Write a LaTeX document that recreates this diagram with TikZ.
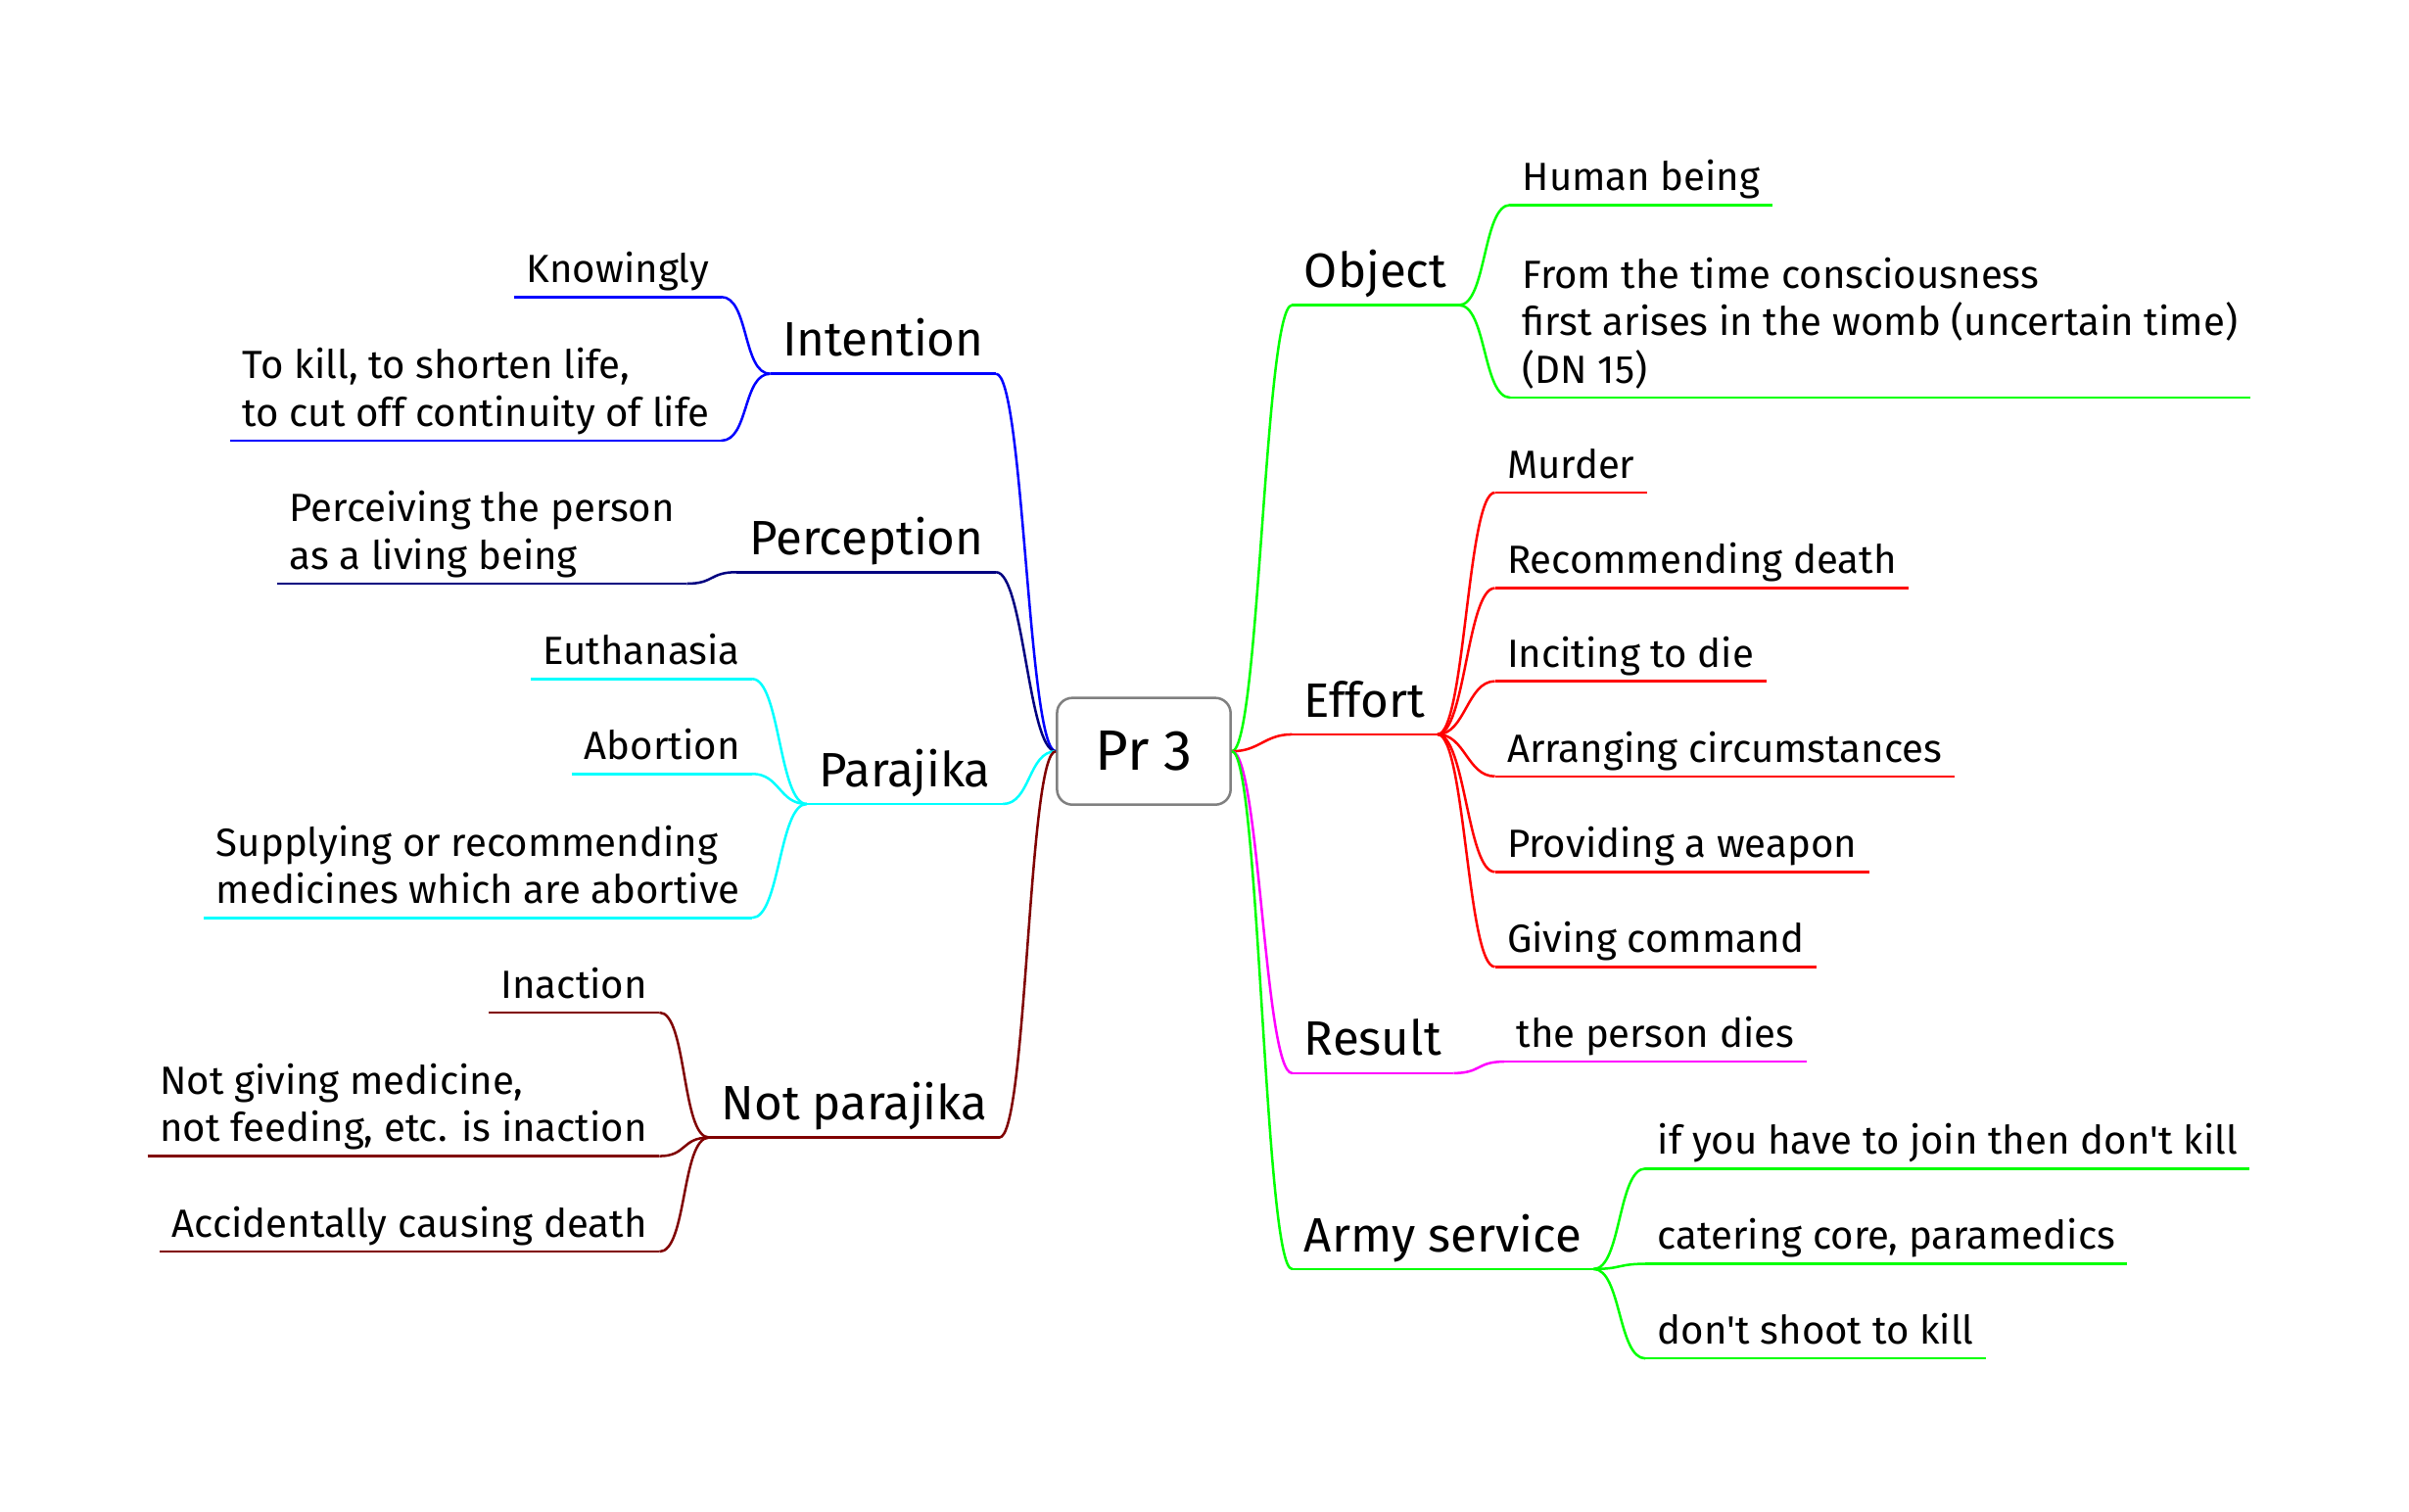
\documentclass[tikz,border=0pt]{standalone}
\usepackage{fontspec}
\setmainfont{Fira Sans}
\definecolor{rootgray}{HTML}{808080}
\definecolor{intentcol}{HTML}{0000FF}
\definecolor{perceptcol}{HTML}{000080}
\definecolor{parajikacol}{HTML}{00FFFF}
\definecolor{notparcol}{HTML}{800000}
\definecolor{objectcol}{HTML}{00FF00}
\definecolor{effortcol}{HTML}{FF0000}
\definecolor{resultcol}{HTML}{FF00FF}
\definecolor{armycol}{HTML}{00FF00}
\tikzset{
    branch/.style={
        inner xsep=4pt,
        inner ysep=0pt,
        outer sep=0pt,
        align=left,
        execute at end node=\strut,
        append after command={
            (\tikzlastnode.south west) edge[draw=#1,line width=0.8pt] (\tikzlastnode.south east)
        }
    },
    topic/.style={branch=#1, font=\fontsize{15.7}{19}\selectfont},
    leaf/.style={branch=#1, font=\fontsize{12.8}{15.5}\selectfont},
    root/.style={
        draw=rootgray,
        line width=0.8pt,
        rounded corners=5pt,
        fill=white,
        minimum width=56.5pt,
        minimum height=34.75pt,
        font=\fontsize{18.5}{22}\selectfont
    },
%%
    rlink/.style={line width=0.8pt, to path={.. controls +(18,0) and +(-18,0) .. (\tikztotarget)}},
    llink/.style={line width=0.8pt, to path={.. controls +(-18,0) and +(18,0) .. (\tikztotarget)}}
}

\begin{document}
\begin{tikzpicture}[x=0.5pt,y=-0.5pt]
        \useasboundingbox (0,0) rectangle (1568,984);
        \node[root] (pr3) at (744.5,489) {Pr 3};

        % right side
        \node[topic=objectcol,anchor=south west] (object) at (841,198.6) {Object};
        \node[topic=effortcol,anchor=south west] (effort) at (841,478) {Effort};
        \node[topic=resultcol,anchor=south west] (result) at (841,698.5) {Result};
        \node[topic=armycol,anchor=south west] (army) at (841,826) {Army service};

        \node[leaf=objectcol,anchor=south west] (human) at (983,133.4) {Human being};
        \node[leaf=objectcol,anchor=south west] (fromtime) at (983,258.8) {From the time consciousness\\first arises in the womb (uncertain time)\\(DN 15)};

        \node[leaf=effortcol,anchor=south west] (murder) at (973,320.6) {Murder};
        \node[leaf=effortcol,anchor=south west] (recommend) at (973,382.8) {Recommending death};
        \node[leaf=effortcol,anchor=south west] (inciting) at (973,443.4) {Inciting to die};
        \node[leaf=effortcol,anchor=south west] (arranging) at (973,505.3) {Arranging circumstances};
        \node[leaf=effortcol,anchor=south west] (weapon) at (973,567.5) {Providing a weapon};
        \node[leaf=effortcol,anchor=south west] (command) at (973,629.3) {Giving command};

        \node[leaf=resultcol,anchor=south west] (dies) at (979,691) {the person dies};

        \node[leaf=armycol,anchor=south west] (join) at (1071,760.6) {if you have to join then don\textquotesingle t kill};
        \node[leaf=armycol,anchor=south west] (catering) at (1071,822.6) {catering core, paramedics};
        \node[leaf=armycol,anchor=south west] (shoot) at (1071,884.2) {don\textquotesingle t shoot to kill};

        % left side
        \node[topic=intentcol,anchor=south east] (intention) at (648.3,243.3) {Intention};
        \node[topic=perceptcol,anchor=south east] (perception) at (648.3,372.4) {Perception};
        \node[topic=parajikacol,anchor=south east] (parajika) at (652.8,523.3) {Parajika};
        \node[topic=notparcol,anchor=south east] (notpar) at (650.5,740.4) {Not parajika};

        \node[leaf=intentcol,anchor=south east] (knowingly) at (469.5,193.3) {Knowingly};
        \node[leaf=intentcol,anchor=south east] (tokill) at (469.5,286.8) {To kill, to shorten life,\\to cut off continuity of life};

        \node[leaf=perceptcol,anchor=south east] (perceiving) at (447,379.9) {Perceiving the person\\as a living being};

        \node[leaf=parajikacol,anchor=south east] (euthanasia) at (489.6,441.9) {Euthanasia};
        \node[leaf=parajikacol,anchor=south east] (abortion) at (489.6,503.7) {Abortion};
        \node[leaf=parajikacol,anchor=south east] (supplying) at (489.6,597.4) {Supplying or recommending\\medicines which are abortive};

        \node[leaf=notparcol,anchor=south east] (inaction) at (429.2,659) {Inaction};
        \node[leaf=notparcol,anchor=south east] (notgiving) at (429.2,752.5) {Not giving medicine,\\not feeding, etc. is inaction};
        \node[leaf=notparcol,anchor=south east] (accident) at (429.2,814.7) {Accidentally causing death};

        % links from the centre
        \draw[rlink,objectcol] (pr3.east) to (object.south west);
        \draw[rlink,effortcol] (pr3.east) to (effort.south west);
        \draw[rlink,resultcol] (pr3.east) to (result.south west);
        \draw[rlink,armycol] (pr3.east) to (army.south west);
        \draw[llink,intentcol] (pr3.west) to (intention.south east);
        \draw[llink,perceptcol] (pr3.west) to (perception.south east);
        \draw[llink,parajikacol] (pr3.west) to (parajika.south east);
        \draw[llink,notparcol] (pr3.west) to (notpar.south east);

        % links to the leaves
        \draw[rlink,objectcol] (object.south east) to (human.south west);
        \draw[rlink,objectcol] (object.south east) to (fromtime.south west);
        \draw[rlink,effortcol] (effort.south east) to (murder.south west);
        \draw[rlink,effortcol] (effort.south east) to (recommend.south west);
        \draw[rlink,effortcol] (effort.south east) to (inciting.south west);
        \draw[rlink,effortcol] (effort.south east) to (arranging.south west);
        \draw[rlink,effortcol] (effort.south east) to (weapon.south west);
        \draw[rlink,effortcol] (effort.south east) to (command.south west);
        \draw[rlink,resultcol] (result.south east) to (dies.south west);
        \draw[rlink,armycol] (army.south east) to (join.south west);
        \draw[rlink,armycol] (army.south east) to (catering.south west);
        \draw[rlink,armycol] (army.south east) to (shoot.south west);
        \draw[llink,intentcol] (intention.south west) to (knowingly.south east);
        \draw[llink,intentcol] (intention.south west) to (tokill.south east);
        \draw[llink,perceptcol] (perception.south west) to (perceiving.south east);
        \draw[llink,parajikacol] (parajika.south west) to (euthanasia.south east);
        \draw[llink,parajikacol] (parajika.south west) to (abortion.south east);
        \draw[llink,parajikacol] (parajika.south west) to (supplying.south east);
        \draw[llink,notparcol] (notpar.south west) to (inaction.south east);
        \draw[llink,notparcol] (notpar.south west) to (notgiving.south east);
        \draw[llink,notparcol] (notpar.south west) to (accident.south east);
\end{tikzpicture}
\end{document}
